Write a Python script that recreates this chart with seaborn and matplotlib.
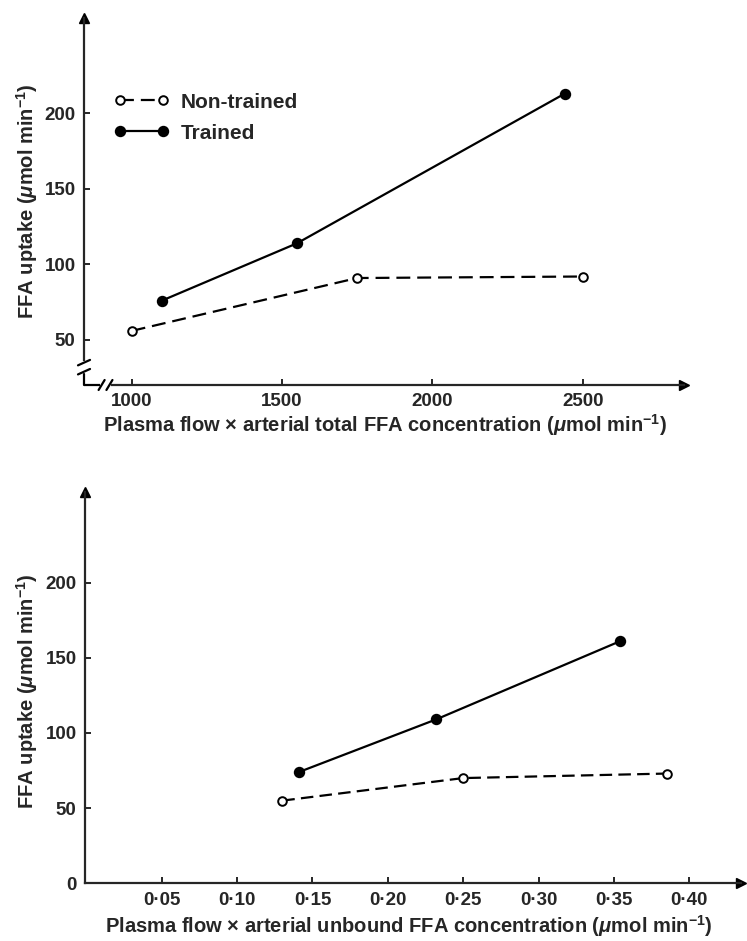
import matplotlib
matplotlib.use("Agg")
import matplotlib.pyplot as plt
import seaborn as sns
import pandas as pd

# ---- data -------------------------------------------------------------
total_x_nontrained = [1000, 1750, 2500]
total_y_nontrained = [56, 91, 92]
total_x_trained = [1100, 1550, 2440]
total_y_trained = [76, 114, 213]

unbound_x_nontrained = [0.130, 0.250, 0.385]
unbound_y_nontrained = [55, 70, 73]
unbound_x_trained = [0.141, 0.232, 0.354]
unbound_y_trained = [74, 109, 161]

total_xticks = [1000, 1500, 2000, 2500]
total_yticks = [50, 100, 150, 200]
unbound_xticks = [0.05, 0.10, 0.15, 0.20, 0.25, 0.30, 0.35, 0.40]
unbound_xticklabels = ["0·05", "0·10", "0·15", "0·20", "0·25", "0·30", "0·35", "0·40"]
unbound_yticks = [0, 50, 100, 150, 200]

ylabel = r"FFA uptake ($\mu$mol min$^{-1}$)"
xlabel_total = r"Plasma flow × arterial total FFA concentration ($\mu$mol min$^{-1}$)"
xlabel_unbound = r"Plasma flow × arterial unbound FFA concentration ($\mu$mol min$^{-1}$)"

# ---- style ------------------------------------------------------------
sns.set_style("ticks")
plt.rcParams["font.family"] = ["Liberation Sans", "DejaVu Sans"]
plt.rcParams["font.weight"] = "bold"
plt.rcParams["mathtext.fontset"] = "custom"
plt.rcParams["mathtext.rm"] = "Liberation Sans:bold"
plt.rcParams["mathtext.it"] = "Liberation Sans:italic:bold"
plt.rcParams["mathtext.bf"] = "Liberation Sans:bold"
plt.rcParams["lines.scale_dashes"] = False

LW = 1.6
TICK_FS = 13.5
LABEL_FS = 14.5
LEGEND_FS = 15

fig = plt.figure(figsize=(7.47, 9.41), dpi=100)
ax1 = fig.add_axes([0.11245, 0.59087, 0.8032, 0.3900])
ax2 = fig.add_axes([0.11379, 0.0613, 0.8782, 0.4159])


def draw_series(ax, x, y, filled, dashes=None, label=None):
    df = pd.DataFrame({"x": x, "y": y})
    before = len(ax.lines)
    sns.lineplot(data=df, x="x", y="y", ax=ax, sort=False, color="black",
                 linewidth=LW, marker="o",
                 markersize=6.8 if filled else 6.2,
                 markerfacecolor="black" if filled else "white",
                 markeredgecolor="black", markeredgewidth=1.4,
                 label=label, legend=False, zorder=3)
    line = ax.lines[before]
    if dashes is not None:
        line.set_dashes(dashes)
    return line


def style_axes(ax):
    for side in ("top", "right"):
        ax.spines[side].set_visible(False)
    for side in ("left", "bottom"):
        ax.spines[side].set_linewidth(LW)
    ax.tick_params(direction="in", length=4, width=1.4, labelsize=TICK_FS, pad=6)
    for lab in ax.get_xticklabels() + ax.get_yticklabels():
        lab.set_fontweight("bold")
    # arrow heads at the open ends of both axes
    ax.plot(1, 0, marker=">", color="black", markersize=7, transform=ax.transAxes,
            clip_on=False)
    ax.plot(0, 1, marker="^", color="black", markersize=7, transform=ax.transAxes,
            clip_on=False)
    ax.set_xlabel("")
    ax.set_ylabel("")


# ---- upper panel: total FFA -----------------------------------------
nt1 = draw_series(ax1, total_x_nontrained, total_y_nontrained, False, dashes=(10, 5))
tr1 = draw_series(ax1, total_x_trained, total_y_trained, True)
ax1.set_xlim(841.4, 2837)
ax1.set_ylim(20.2, 263.1)
ax1.set_xticks(total_xticks)
ax1.set_yticks(total_yticks)
style_axes(ax1)

# broken axes near the origin
ax1.spines["left"].set_bounds(36.8, 263.1)
ax1.spines["bottom"].set_bounds(935, 2837)
ax1.plot([841.4, 841.4], [20.2, 27.5], color="black", lw=LW, clip_on=False)
ax1.plot([841.4, 894], [20.2, 20.2], color="black", lw=LW, clip_on=False,
         solid_capstyle="butt")
for yb in (35.0, 29.0):
    ax1.plot([841.4 - 20, 841.4 + 20], [yb - 1.8, yb + 1.8], color="black",
             lw=LW, clip_on=False)
for xb in (900, 926):
    ax1.plot([xb - 10, xb + 10], [20.2 - 3.3, 20.2 + 3.3], color="black",
             lw=LW, clip_on=False)

ax1.legend(handles=[nt1, tr1], labels=["Non-trained", "Trained"],
           loc="upper left", bbox_to_anchor=(0.0497, 0.797), frameon=False,
           numpoints=2, handlelength=2.67, handletextpad=0.52, labelspacing=0.58,
           borderpad=0, borderaxespad=0,
           prop={"size": LEGEND_FS, "weight": "bold"})

fig.text(385 / 747, 1 - 425 / 941, xlabel_total, ha="center", va="center",
         fontsize=LABEL_FS, fontweight="bold")
fig.text(27 / 747, 1 - 201 / 941, ylabel, ha="center", va="center",
         rotation=90, fontsize=LABEL_FS, fontweight="bold")

# ---- lower panel: unbound FFA ---------------------------------------
draw_series(ax2, unbound_x_nontrained, unbound_y_nontrained, False, dashes=(9, 4.5))
draw_series(ax2, unbound_x_trained, unbound_y_trained, True)
ax2.set_xlim(-0.0009, 0.4343)
ax2.set_ylim(0, 260.3)
ax2.set_xticks(unbound_xticks)
ax2.set_xticklabels(unbound_xticklabels)
ax2.set_yticks(unbound_yticks)
style_axes(ax2)

fig.text(409 / 747, 1 - 926 / 941, xlabel_unbound, ha="center", va="center",
         fontsize=LABEL_FS, fontweight="bold")
fig.text(27 / 747, 1 - 691 / 941, ylabel, ha="center", va="center",
         rotation=90, fontsize=LABEL_FS, fontweight="bold")

fig.savefig("out.png", dpi=100, facecolor="white")
